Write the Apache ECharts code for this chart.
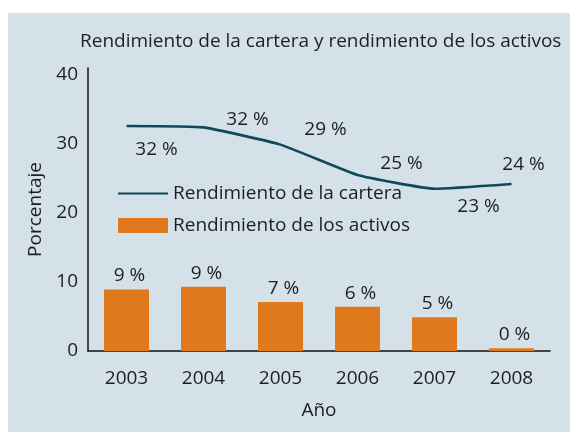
<!DOCTYPE html>
<html>
<head>
<meta charset="utf-8">
<script src="https://cdn.jsdelivr.net/npm/echarts@6/dist/echarts.min.js"></script>
<style>
    html, body { margin: 0; padding: 0; background: #fff; }
    #chart { position: absolute; left: 8px; top: 13px; width: 562px; height: 419px; }
</style>
</head>
<body>
<div id="chart"></div>
<script>
// datos
var years = ['2003', '2004', '2005', '2006', '2007', '2008'];
var cartera = [32.6, 32.4, 29.9, 25.5, 23.5, 24.2];
var carteraLabels = ['32 %', '32 %', '29 %', '25 %', '23 %', '24 %'];
var activos = [8.9, 9.3, 7.1, 6.4, 4.9, 0.4];
var activosLabels = ['9 %', '9 %', '7 %', '6 %', '5 %', '0 %'];
var yTicks = [0, 10, 20, 30, 40];

// desplazamiento de las etiquetas de la linea (solo estilo)
var lblOffsets = [[30, 24], [44, -8], [45, -15], [44, -11], [44, 18], [12, -19]];

var font = '"Open Sans", "Noto Sans", sans-serif';
var txt = '#1e1e1e';
var fs = 19;

var chart = echarts.init(document.getElementById('chart'));

var lblData = [];
for (var i = 0; i < cartera.length; i++) {
    lblData.push({
        value: cartera[i],
        label: { offset: lblOffsets[i] }
    });
}

var option = {
    backgroundColor: '#d5e1e8',
    animation: false,
    title: {
        text: 'Rendimiento de la cartera y rendimiento de los activos',
        left: 67,
        top: 14,
        textStyle: { fontFamily: font, fontSize: fs, fontWeight: 'normal', color: txt }
    },
    legend: {
        orient: 'vertical',
        left: 104,
        top: 166,
        itemWidth: 50,
        itemHeight: 15,
        itemGap: 13,
        data: [
            { name: 'Rendimiento de la cartera', itemStyle: { opacity: 0 } },
            { name: 'Rendimiento de los activos', icon: 'rect' }
        ],
        textStyle: { fontFamily: font, fontSize: fs, color: txt }
    },
    grid: { left: 80, right: 20, top: 55, bottom: 81 },
    xAxis: {
        type: 'category',
        data: years,
        name: 'Año',
        nameLocation: 'middle',
        nameGap: 50,
        nameTextStyle: { fontFamily: font, fontSize: fs, color: txt },
        axisLine: { lineStyle: { color: '#111', width: 1.5 } },
        axisTick: { show: false },
        axisLabel: { fontFamily: font, fontSize: fs, color: txt, margin: 18 }
    },
    yAxis: {
        type: 'value',
        min: 0,
        max: 41,
        interval: 10,
        name: 'Porcentaje',
        nameLocation: 'middle',
        nameGap: 42,
        nameTextStyle: { fontFamily: font, fontSize: fs, color: txt },
        axisLine: { show: true, lineStyle: { color: '#111', width: 1.5 } },
        axisTick: { show: false },
        splitLine: { show: false },
        axisLabel: {
            fontFamily: font, fontSize: fs, color: txt, margin: 10,
            formatter: function (v) { return yTicks.indexOf(v) >= 0 ? String(v) : ''; }
        }
    },
    series: [{
        name: 'Rendimiento de la cartera',
        type: 'line',
        data: cartera,
        symbol: 'none',
        smooth: 0.12,
        lineStyle: { color: '#0c4a5a', width: 2.6 },
        itemStyle: { color: '#0c4a5a' },
        z: 3
    }, {
        name: 'Rendimiento de los activos',
        type: 'bar',
        data: activos,
        barWidth: 45,
        itemStyle: { color: '#e0781c' },
        label: {
            show: true,
            position: 'top',
            distance: 4,
            offset: [3, 0],
            fontFamily: font, fontSize: fs, color: txt,
            formatter: function (p) { return activosLabels[p.dataIndex]; }
        }
    }, {
        name: 'etiquetas',
        type: 'scatter',
        data: lblData,
        symbolSize: 0,
        silent: true,
        itemStyle: { opacity: 1 },
        label: {
            show: true,
            position: 'inside',
            opacity: 1,
            fontFamily: font, fontSize: fs, color: txt,
            formatter: function (p) { return carteraLabels[p.dataIndex]; }
        },
        z: 4
    }]
};
chart.setOption(option);
</script>
</body>
</html>
